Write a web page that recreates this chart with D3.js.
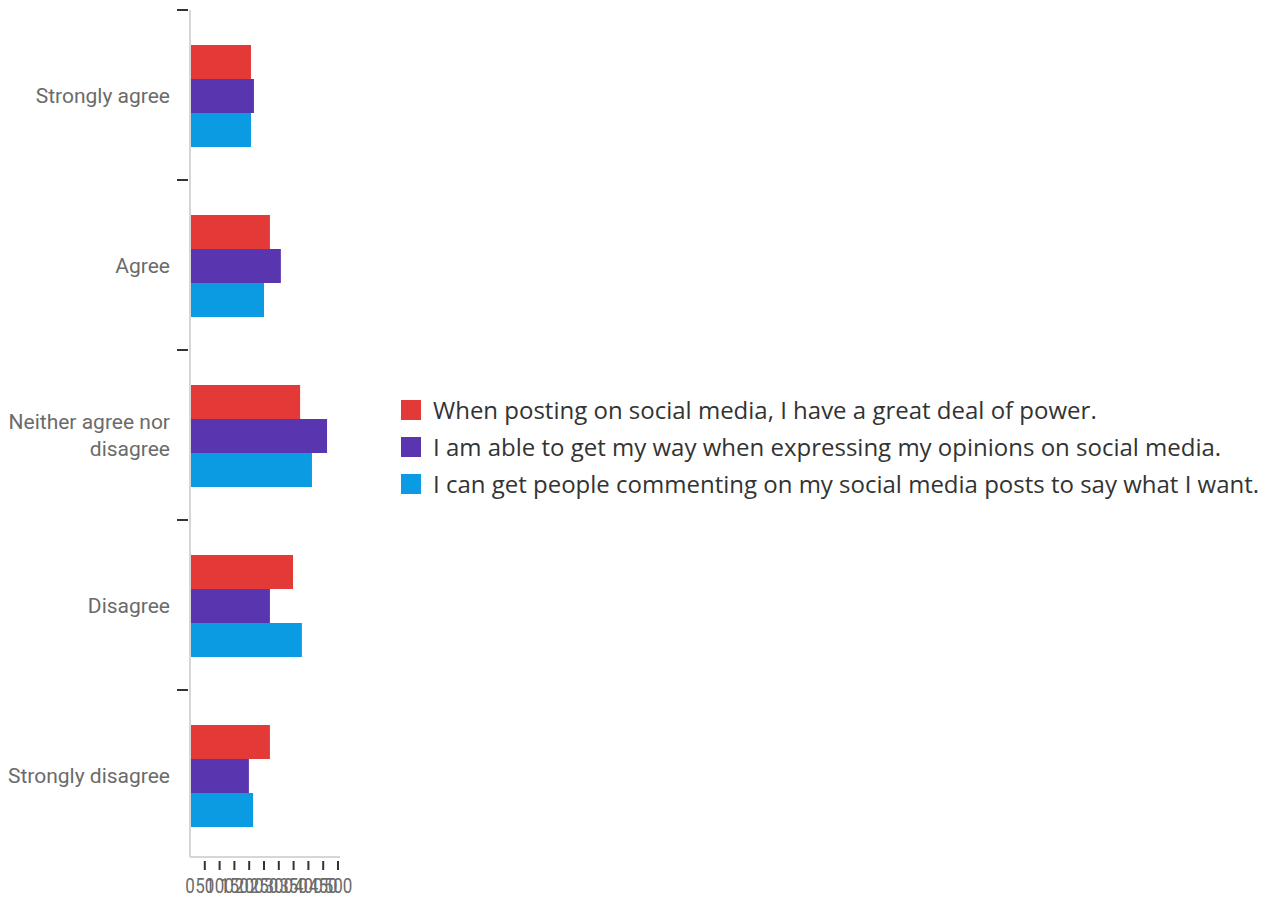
<!DOCTYPE html>
<html><head><meta charset="utf-8">
<script src="https://cdn.jsdelivr.net/npm/d3@7"></script>
<style>
body{margin:0;background:#fff;}
svg{display:block;}
</style></head>
<body><svg id="c" width="1270" height="899"></svg>
<script>
const categories = ["Strongly agree","Agree","Neither agree nor disagree","Disagree","Strongly disagree"];
const seriesNames = [
 "When posting on social media, I have a great deal of power.",
 "I am able to get my way when expressing my opinions on social media.",
 "I can get people commenting on my social media posts to say what I want."
];
const seriesPower = [206, 270, 372, 348, 270];
const seriesWay = [216, 307, 463, 270, 199];
const seriesComment = [206, 250, 412, 378, 213];
const xTicks = [0,50,100,150,200,250,300,350,400,450,500];
const colors = ["#e43a37","#5a35b0","#0a9be3"];

(function(){
const series = [seriesPower, seriesWay, seriesComment];
const svg = d3.select("#c");
const pLeft = 190, pRight = 338, pTop = 10, pBottom = 860;

const x = d3.scaleLinear().domain([0,500]).range([pLeft,pRight]);
const y = d3.scaleBand().domain(categories).range([pTop,pBottom]);
const inner = d3.scaleBand().domain([0,1,2]).range([y.bandwidth()*0.2+1, y.bandwidth()*0.8+1]);

categories.forEach((c,i)=>{
  series.forEach((s,j)=>{
    svg.append("rect")
      .attr("x", x(0))
      .attr("y", y(c)+inner(j))
      .attr("width", x(s[i])-x(0))
      .attr("height", inner.bandwidth())
      .attr("fill", colors[j]);
  });
});

svg.append("line").attr("x1",pLeft).attr("x2",pLeft).attr("y1",pTop).attr("y2",857)
  .attr("stroke","#d6d6d6").attr("stroke-width",2);
categories.forEach(c=>{
  svg.append("line").attr("x1",177).attr("x2",188).attr("y1",y(c)).attr("y2",y(c))
    .attr("stroke","#333").attr("stroke-width",2);
});
const labelLines = {"Neither agree nor disagree":["Neither agree nor","disagree"]};
categories.forEach(c=>{
  const lines = labelLines[c] || [c];
  const cy = y(c)+y.bandwidth()/2;
  const t = svg.append("text").attr("x",170).attr("text-anchor","end")
    .attr("font-family","Roboto, sans-serif").attr("font-size",21).attr("fill","#6b6b6b");
  lines.forEach((l,k)=>{
    t.append("tspan").attr("x",170).attr("y", cy + 7.5 + (k-(lines.length-1)/2)*27).text(l);
  });
});

svg.append("line").attr("x1",pLeft).attr("x2",pRight+2).attr("y1",857).attr("y2",857)
  .attr("stroke","#d6d6d6").attr("stroke-width",2);
xTicks.forEach(v=>{
  if(v>0) svg.append("line").attr("x1",x(v)).attr("x2",x(v)).attr("y1",861).attr("y2",870)
    .attr("stroke","#333").attr("stroke-width",2);
  svg.append("text").attr("transform",`translate(${x(v)},893) scale(0.85,1)`).attr("text-anchor","middle")
    .attr("font-family","Roboto, sans-serif").attr("font-size",20).attr("fill","#6b6b6b")
    .text(v);
});

seriesNames.forEach((n,j)=>{
  const ly = 400 + j*37;
  svg.append("rect").attr("x",401).attr("y",ly).attr("width",20).attr("height",20).attr("fill",colors[j]);
  svg.append("text").attr("x",433).attr("y",ly+19).attr("font-family","'Open Sans', sans-serif")
    .attr("font-size",24).attr("fill","#333").text(n);
});
})();
</script></body></html>
